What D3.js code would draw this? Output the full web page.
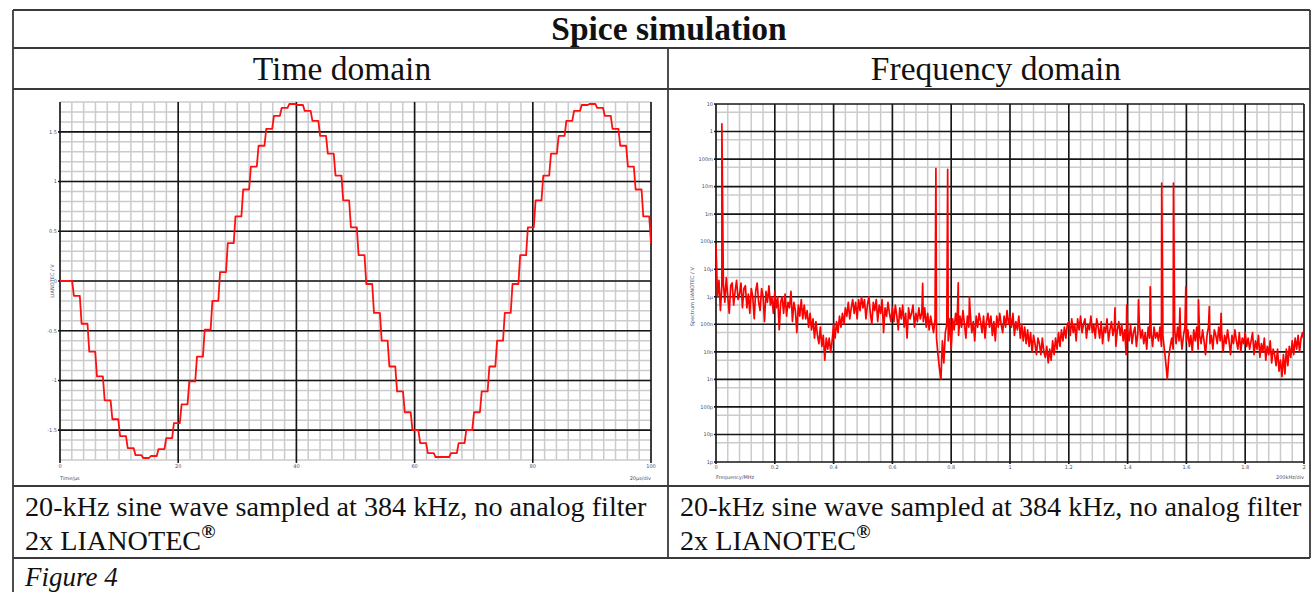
<!DOCTYPE html>
<html lang="en"><head><meta charset="utf-8">
<script src="https://d3js.org/d3.v7.min.js"></script>
<style>
body { margin: 0; background: #fff; }
.tbl { font-family: "Liberation Serif", "Times New Roman", serif; fill: #111; }
.tl { font-family: "DejaVu Sans", sans-serif; font-size: 5px; fill: #3f4f70; }
</style>
</head><body>
<div id="chart"></div>
<script>
// ---- time domain: held sample levels in V (20 kHz sine, 2x LIANOTEC = 768 kHz steps)
var sampleStart = 2.05;    // µs, first step
var samplePeriod = 1.302;  // µs
var levels = [
  -0.15, -0.43, -0.71, -0.96, -1.20, -1.39, -1.56, -1.68, -1.75, -1.78,
  -1.76, -1.69, -1.58, -1.43, -1.24, -1.01, -0.76, -0.49, -0.20, 0.09,
  0.38, 0.65, 0.92, 1.15, 1.36, 1.53, 1.66, 1.74, 1.78, 1.77,
  1.71, 1.61, 1.46, 1.28, 1.06, 0.81, 0.54, 0.26, -0.03, -0.32,
  -0.60, -0.86, -1.11, -1.32, -1.50, -1.63, -1.73, -1.77, -1.77, -1.73,
  -1.63, -1.50, -1.32, -1.11, -0.86, -0.60, -0.32, -0.03, 0.26, 0.54,
  0.81, 1.06, 1.28, 1.46, 1.61, 1.71, 1.77, 1.78, 1.74, 1.66,
  1.53, 1.36, 1.15, 0.92, 0.65, 0.38
];
var timeTicks = [0, 20, 40, 60, 80, 100];
var voltTicks = [-1.5, -1, -0.5, 0, 0.5, 1, 1.5];
var voltLabels = ["-1.5", "-1", "-0.5", "0", "0.5", "1", "1.5"];

// ---- frequency domain: noise floor as log10(V), one value every 5 kHz
var freqStep = 0.005; // MHz
var noiseLog = [
  -4.1, -6.0, -5.4, -6.5, -5.6, -5.5, -6.2, -5.3, -6.0, -6.6, -5.6, -5.5, -6.3, -5.8, -5.4, -6.1, -5.9, -5.5, -6.4, -5.7,
  -5.6, -6.4, -5.9, -6.6, -5.7, -6.0, -6.8, -5.8, -5.5, -6.2, -6.5, -5.7, -6.0, -6.9, -5.8, -6.2, -5.6, -6.3, -6.0, -6.6,
  -5.8, -6.4, -6.0, -7.2, -6.2, -6.0, -6.6, -5.9, -6.7, -6.2, -6.4, -5.8, -6.9, -6.2, -6.5, -7.3, -6.3, -6.7, -6.1, -6.8,
  -6.3, -6.8, -6.5, -7.1, -6.6, -7.2, -6.8, -7.5, -6.9, -7.4, -7.7, -7.1, -7.8, -7.4, -8.3, -7.5, -7.9, -7.5, -8.0, -7.6,
  -7.0, -7.5, -6.9, -7.3, -6.7, -7.1, -6.6, -7.0, -6.4, -6.7, -6.2, -6.8, -6.4, -6.1, -6.6, -6.2, -6.8, -6.1, -6.5, -6.0,
  -6.4, -6.1, -6.8, -6.3, -6.0, -6.6, -7.0, -6.2, -6.5, -6.1, -6.9, -6.3, -6.6, -6.1, -7.3, -6.4, -6.7, -6.2, -6.6, -6.9,
  -6.4, -6.9, -6.3, -6.7, -7.2, -6.4, -6.8, -6.3, -7.1, -6.6, -7.5, -6.4, -6.8, -6.6, -6.3, -7.1, -6.6, -6.9, -6.4, -6.8,
  -6.6, -6.9, -6.4, -7.1, -6.6, -7.2, -6.7, -7.0, -7.3, -6.8, -7.5, -8.1, -8.6, -9.0, -7.6, -8.4, -7.3, -7.0, -7.6, -6.8,
  -7.9, -6.8, -7.2, -6.6, -7.0, -7.4, -6.7, -7.1, -6.5, -7.0, -7.5, -6.7, -7.1, -6.6, -7.3, -6.9, -7.6, -6.7, -7.1, -6.6,
  -6.9, -7.3, -6.7, -7.5, -6.9, -6.6, -7.1, -6.7, -7.4, -6.9, -7.6, -6.7, -7.1, -6.6, -7.0, -7.3, -6.7, -7.1, -6.5, -7.0,
  -6.7, -7.1, -6.6, -7.4, -6.9, -7.2, -6.7, -7.5, -7.0, -7.6, -7.1, -7.7, -7.2, -7.8, -7.3, -8.0, -7.4, -7.7, -8.1, -7.5,
  -7.7, -8.1, -7.5, -8.0, -8.2, -7.8, -8.4, -7.9, -8.3, -7.6, -8.1, -7.5, -7.9, -7.3, -7.8, -7.2, -7.6, -7.1, -7.5, -7.0,
  -6.9, -7.4, -6.8, -7.3, -7.0, -7.6, -6.8, -7.2, -6.7, -7.3, -7.0, -6.8, -7.5, -7.0, -7.2, -6.7, -7.3, -7.0, -7.5, -6.8,
  -7.1, -7.5, -6.9, -7.7, -7.1, -7.3, -6.8, -7.6, -7.2, -6.9, -7.4, -7.1, -7.8, -7.2, -6.9, -7.4, -7.0, -7.6, -7.2, -8.1,
  -7.2, -7.6, -7.0, -7.7, -7.3, -7.1, -7.8, -7.3, -7.0, -7.5, -7.2, -7.7, -7.3, -7.9, -7.1, -7.5, -7.3, -7.8, -7.1, -7.5,
  -7.3, -7.6, -7.1, -7.8, -7.4, -7.9, -8.4, -9.0, -8.2, -7.8, -7.5, -7.9, -7.2, -7.7, -7.1, -7.6, -7.3, -7.9, -7.4, -7.1,
  -7.6, -7.2, -7.8, -7.4, -8.0, -7.2, -7.6, -7.1, -7.9, -7.4, -7.7, -7.2, -7.6, -8.1, -7.4, -7.1, -7.7, -7.4, -7.9, -7.2,
  -7.4, -7.7, -7.1, -7.6, -7.3, -8.0, -7.4, -7.7, -7.2, -7.6, -8.1, -7.4, -7.7, -7.2, -7.6, -7.9, -7.3, -8.0, -7.5, -7.7,
  -7.3, -7.8, -7.5, -7.9, -7.6, -7.3, -8.1, -7.6, -7.9, -7.4, -8.2, -7.7, -8.0, -7.5, -8.3, -7.8, -8.1, -7.6, -8.4, -7.9,
  -8.1, -8.5, -7.9, -8.7, -8.3, -8.9, -8.1, -8.8, -7.9, -8.5, -7.8, -8.2, -7.6, -8.1, -7.5, -7.9, -7.4, -8.0, -7.5, -7.3,
  -7.6
];
// tones and spurs: [MHz, V]
var spikes = [
  [0.02, 1.9], [0.703, 3.1e-6], [0.748, 0.045], [0.788, 0.042], [0.824, 3.2e-6], [0.862, 1.0e-6],
  [1.357, 4e-7], [1.397, 5e-7], [1.437, 7.7e-7], [1.477, 2.3e-6], [1.516, 0.0135], [1.556, 0.0135],
  [1.578, 3.9e-7], [1.598, 2.3e-6], [1.641, 7.7e-7], [1.678, 4.4e-7], [1.718, 2.5e-7]
];
var freqTicks = [0, 0.2, 0.4, 0.6, 0.8, 1, 1.2, 1.4, 1.6, 1.8, 2];
var freqLabels = ["0", "0.2", "0.4", "0.6", "0.8", "1", "1.2", "1.4", "1.6", "1.8", "2"];
var decadeTicks = [10, 1, 1e-1, 1e-2, 1e-3, 1e-4, 1e-5, 1e-6, 1e-7, 1e-8, 1e-9, 1e-10, 1e-11, 1e-12];
var decadeLabels = ["10", "1", "100m", "10m", "1m", "100µ", "10µ", "1µ", "100n", "10n", "1n", "100p", "10p", "1p"];

var W = 1312, H = 592;
var svg = d3.select("#chart").append("svg")
    .attr("width", W).attr("height", H)
    .style("display", "block");
svg.append("rect").attr("width", W).attr("height", H).attr("fill", "#fff");

var minorColor = "#cbcbcb", majorColor = "#161616";

// ================= time domain =================
var x1 = d3.scaleLinear().domain([0, 100]).range([60, 651]);
var y1 = d3.scaleLinear().domain([-1.8, 1.8]).range([460, 102]);
var g1 = svg.append("g");

g1.selectAll(".vmin").data(d3.range(0, 101, 2)).join("line")
    .attr("x1", d => x1(d)).attr("x2", d => x1(d))
    .attr("y1", y1(1.8)).attr("y2", y1(-1.8))
    .attr("stroke", minorColor).attr("stroke-width", 1.5);
g1.selectAll(".hmin").data(d3.range(-18, 19).map(d => d / 10)).join("line")
    .attr("x1", x1(0)).attr("x2", x1(100))
    .attr("y1", d => y1(d)).attr("y2", d => y1(d))
    .attr("stroke", minorColor).attr("stroke-width", 1.5);
g1.selectAll(".hmaj").data(voltTicks).join("line")
    .attr("x1", x1(0) - 2).attr("x2", x1(100))
    .attr("y1", d => y1(d)).attr("y2", d => y1(d))
    .attr("stroke", majorColor).attr("stroke-width", 1.6);
g1.selectAll(".vmaj").data(timeTicks).join("line")
    .attr("x1", d => x1(d)).attr("x2", d => x1(d))
    .attr("y1", y1(1.8)).attr("y2", y1(-1.8) + 3)
    .attr("stroke", majorColor).attr("stroke-width", 1.6);

g1.selectAll(".yl").data(voltTicks).join("text")
    .attr("class", "tl")
    .attr("x", x1(0) - 3).attr("y", d => y1(d) + 1.8)
    .attr("text-anchor", "end")
    .text((d, i) => voltLabels[i]);
g1.selectAll(".xl").data(timeTicks).join("text")
    .attr("class", "tl")
    .attr("x", d => x1(d)).attr("y", y1(-1.8) + 8)
    .attr("text-anchor", "middle")
    .text(d => d);
g1.append("text").attr("class", "tl").attr("x", x1(0)).attr("y", 480).text("Time/µs");
g1.append("text").attr("class", "tl").attr("x", x1(100)).attr("y", 480)
    .attr("text-anchor", "end").text("20µs/div");
g1.append("text").attr("class", "tl")
    .attr("transform", "translate(54," + y1(0) + ") rotate(-90)")
    .attr("text-anchor", "middle").text("LIANOTEC / V");

// staircase with short ramps between held levels
var ramp = 0.3;
var stairs = [[0, 0]];
var prev = 0;
levels.forEach(function (v, k) {
    var t = sampleStart + k * samplePeriod;
    stairs.push([t, prev]);
    stairs.push([t + ramp, v]);
    prev = v;
});
stairs.push([100, prev]);

svg.append("clipPath").attr("id", "clip1").append("rect")
    .attr("x", x1(0)).attr("y", y1(1.8) - 2).attr("width", x1(100) - x1(0)).attr("height", y1(-1.8) - y1(1.8) + 4);
g1.append("path")
    .datum(stairs.filter(p => p[0] <= 100))
    .attr("clip-path", "url(#clip1)")
    .attr("fill", "none").attr("stroke", "#ff1010").attr("stroke-width", 1.8)
    .attr("stroke-linejoin", "round")
    .attr("d", d3.line().x(d => x1(d[0])).y(d => y1(d[1])));

// ================= frequency domain =================
var x2 = d3.scaleLinear().domain([0, 2]).range([716, 1304]);
var y2 = d3.scaleLog().domain([1e-12, 10]).range([462, 104]);
var g2 = svg.append("g");

g2.selectAll(".vmin").data(d3.range(0, 51).map(d => d * 0.04)).join("line")
    .attr("x1", d => x2(d)).attr("x2", d => x2(d))
    .attr("y1", y2(10)).attr("y2", y2(1e-12))
    .attr("stroke", minorColor).attr("stroke-width", 1.5);
g2.selectAll(".hmin").data(decadeTicks.slice(1).map(d => d * 5)).join("line")
    .attr("x1", x2(0)).attr("x2", x2(2))
    .attr("y1", d => y2(d)).attr("y2", d => y2(d))
    .attr("stroke", minorColor).attr("stroke-width", 1.5);
g2.selectAll(".hmaj").data(decadeTicks).join("line")
    .attr("x1", x2(0) - 2).attr("x2", x2(2))
    .attr("y1", d => y2(d)).attr("y2", d => y2(d))
    .attr("stroke", majorColor).attr("stroke-width", 1.6);
g2.selectAll(".vmaj").data(freqTicks).join("line")
    .attr("x1", d => x2(d)).attr("x2", d => x2(d))
    .attr("y1", y2(10)).attr("y2", y2(1e-12) + 2)
    .attr("stroke", majorColor).attr("stroke-width", 1.6);

g2.selectAll(".yl").data(decadeTicks).join("text")
    .attr("class", "tl")
    .attr("x", x2(0) - 3).attr("y", d => y2(d) + 1.8)
    .attr("text-anchor", "end")
    .text((d, i) => decadeLabels[i]);
g2.selectAll(".xl").data(freqTicks).join("text")
    .attr("class", "tl")
    .attr("x", d => x2(d)).attr("y", y2(1e-12) + 7)
    .attr("text-anchor", "middle")
    .text((d, i) => freqLabels[i]);
g2.append("text").attr("class", "tl").attr("x", x2(0)).attr("y", 479).text("Frequency/MHz");
g2.append("text").attr("class", "tl").attr("x", x2(2)).attr("y", 479)
    .attr("text-anchor", "end").text("200kHz/div");
g2.append("text").attr("class", "tl")
    .attr("transform", "translate(694," + y2(1e-6) + ") rotate(-90)")
    .attr("text-anchor", "middle").text("Spectrum LIANOTEC / V");

// merge noise floor and spikes, sorted by frequency
var spec = noiseLog.map((v, i) => [i * freqStep, Math.pow(10, v)])
    .concat(spikes.map(s => [s[0], s[1]]))
    .sort((a, b) => a[0] - b[0]);

svg.append("clipPath").attr("id", "clip2").append("rect")
    .attr("x", x2(0)).attr("y", y2(10)).attr("width", x2(2) - x2(0)).attr("height", y2(1e-12) - y2(10));
g2.append("path")
    .datum(spec)
    .attr("clip-path", "url(#clip2)")
    .attr("fill", "none").attr("stroke", "#ff0000").attr("stroke-width", 1.7)
    .attr("stroke-linejoin", "round")
    .attr("d", d3.line().x(d => x2(d[0])).y(d => y2(d[1])));

// ================= table frame and text =================
var frame = svg.append("g").attr("stroke", "#3a3a3a").attr("stroke-width", 1.8);
var L = 13, R = 1310, mid = 668;
[10, 48, 89, 486, 558].forEach(function (yy) {
    frame.append("line").attr("x1", L).attr("x2", R).attr("y1", yy).attr("y2", yy);
});
frame.append("line").attr("x1", L).attr("x2", L).attr("y1", 10).attr("y2", H);
frame.append("line").attr("x1", R).attr("x2", R).attr("y1", 10).attr("y2", 558);
frame.append("line").attr("x1", mid).attr("x2", mid).attr("y1", 48).attr("y2", 558);

svg.append("text").attr("class", "tbl").attr("x", 669).attr("y", 40)
    .attr("text-anchor", "middle").style("font-size", "33.5px").style("font-weight", "bold")
    .text("Spice simulation");
svg.append("text").attr("class", "tbl").attr("x", 342).attr("y", 80)
    .attr("text-anchor", "middle").style("font-size", "33.5px").text("Time domain");
svg.append("text").attr("class", "tbl").attr("x", 996).attr("y", 80)
    .attr("text-anchor", "middle").style("font-size", "33.5px").text("Frequency domain");

[L + 12, mid + 12].forEach(function (cx) {
    svg.append("text").attr("class", "tbl").attr("x", cx).attr("y", 516)
        .style("font-size", "28.2px").text("20-kHz sine wave sampled at 384 kHz, no analog filter");
    var t = svg.append("text").attr("class", "tbl").attr("x", cx).attr("y", 550)
        .style("font-size", "28.2px");
    t.append("tspan").text("2x LIANOTEC");
    t.append("tspan").attr("dy", -12).style("font-size", "19px").style("font-weight", "bold").text("®");
});

svg.append("text").attr("class", "tbl").attr("x", L + 12).attr("y", 586)
    .style("font-size", "27px").style("font-style", "italic").text("Figure 4");
</script>
</body></html>
